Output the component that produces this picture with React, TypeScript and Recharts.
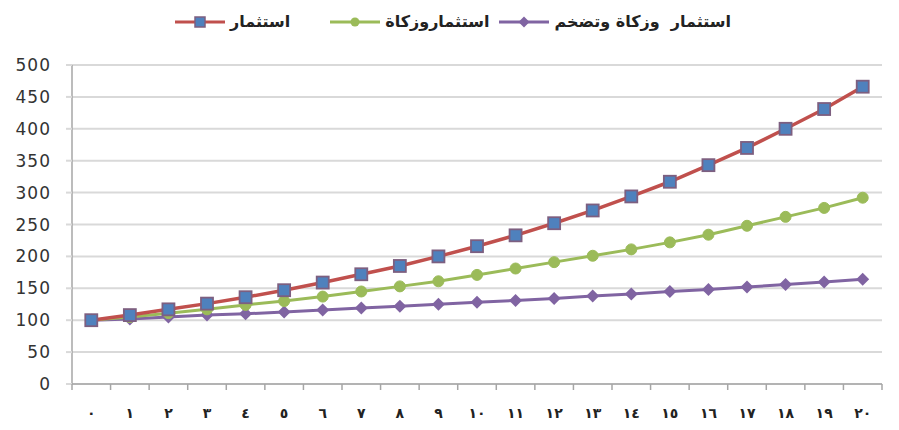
import React from 'react';
import { LineChart, Line, XAxis, YAxis, CartesianGrid } from 'recharts';

const years = [0, 1, 2, 3, 4, 5, 6, 7, 8, 9, 10, 11, 12, 13, 14, 15, 16, 17, 18, 19, 20];
const investment = [100, 108, 117, 126, 136, 147, 159, 172, 185, 200, 216, 233, 252, 272, 294, 317, 343, 370, 400, 431, 466];
const investZakat = [100, 105, 111, 117, 124, 130, 137, 145, 153, 161, 171, 181, 191, 201, 211, 222, 234, 248, 262, 276, 292];
const investZakatInflation = [100, 102, 105, 108, 110, 113, 116, 119, 122, 125, 128, 131, 134, 138, 141, 145, 148, 152, 156, 160, 164];
const yTicks = [0, 50, 100, 150, 200, 250, 300, 350, 400, 450, 500];
const arabicDigits = ['٠', '١', '٢', '٣', '٤', '٥', '٦', '٧', '٨', '٩'];

const seriesNames = ['استثمار', 'استثماروزكاة', 'استثمار  وزكاة وتضخم'];

const data = years.map((x, i) => ({
  x,
  a: investment[i],
  b: investZakat[i],
  c: investZakatInflation[i],
}));

// tick values: category centres for labels, half steps for the little tick marks
const xTicks = [...years.map((y) => y - 0.5), 20.5, ...years].sort((p, q) => p - q);

const toArabic = (n: number) =>
  String(n)
    .split('')
    .map((d) => arabicDigits[Number(d)])
    .join('');

const RED = '#c0504d';
const GREEN = '#9bbb59';
const PURPLE = '#8064a2';
const BLUE = '#4f81bd';

const SquareDot = (props: any) => {
  const { cx, cy } = props;
  if (cx == null || cy == null) return null;
  return <rect key={props.key ?? `s${cx}`} x={cx - 6} y={cy - 6} width={12} height={12} fill={BLUE} stroke="#7d5f80" strokeWidth={1.8} />;
};

const CircleDot = (props: any) => {
  const { cx, cy } = props;
  if (cx == null || cy == null) return null;
  return <circle key={props.key ?? `c${cx}`} cx={cx} cy={cy} r={5.5} fill={GREEN} stroke={GREEN} />;
};

const DiamondDot = (props: any) => {
  const { cx, cy } = props;
  if (cx == null || cy == null) return null;
  const s = 6.5;
  return (
    <polygon
      key={props.key ?? `d${cx}`}
      points={`${cx},${cy - s} ${cx + s},${cy} ${cx},${cy + s} ${cx - s},${cy}`}
      fill={PURPLE}
    />
  );
};

const XTick = (props: any) => {
  const { x, y, payload } = props;
  const v = payload.value;
  if (!Number.isInteger(v)) {
    return <line x1={x} y1={y} x2={x} y2={y + 6} stroke="#a6a6a6" strokeWidth={1.5} />;
  }
  return (
    <text x={x} y={y + 34} textAnchor="middle" fontSize={14} fontWeight="bold" fill="#222" fontFamily="DejaVu Sans">
      {toArabic(v)}
    </text>
  );
};

const LegendIcon = ({ color, kind }: { color: string; kind: string }) => (
  <svg width={50} height={14} style={{ display: 'block' }}>
    <line x1={0} y1={7} x2={50} y2={7} stroke={color} strokeWidth={3} />
    {kind === 'square' && <rect x={20} y={2} width={10} height={10} fill={BLUE} stroke="#7d5f80" strokeWidth={1.5} />}
    {kind === 'circle' && <circle cx={25} cy={7} r={4.5} fill={GREEN} />}
    {kind === 'diamond' && <polygon points="25,1.5 30.5,7 25,12.5 19.5,7" fill={PURPLE} />}
  </svg>
);

const legendItems = [
  { name: seriesNames[0], color: RED, kind: 'square', gap: 175 },
  { name: seriesNames[1], color: GREEN, kind: 'circle', gap: 40 },
  { name: seriesNames[2], color: PURPLE, kind: 'diamond', gap: 10 },
];

export default function App() {
  return (
    <div style={{ position: 'absolute', left: 0, top: 0, width: 899, height: 430, background: '#fff' }}>
      <div style={{ position: 'absolute', top: 12, left: 0, display: 'flex', alignItems: 'center', direction: 'ltr' }}>
        {legendItems.map((it) => (
          <div key={it.name} style={{ display: 'flex', alignItems: 'center', marginLeft: it.gap }}>
            <LegendIcon color={it.color} kind={it.kind} />
            <span
              style={{
                marginLeft: 5,
                fontFamily: 'DejaVu Sans',
                fontWeight: 'bold',
                fontSize: 16,
                color: '#222',
                whiteSpace: 'pre',
              }}
            >
              {it.name}
            </span>
          </div>
        ))}
      </div>
      <LineChart width={899} height={430} data={data} margin={{ top: 65, right: 17, bottom: 0, left: 0 }}>
        <CartesianGrid vertical={false} stroke="#d9d9d9" strokeWidth={2} xAxisId="x" />
        <XAxis
          xAxisId="x"
          dataKey="x"
          type="number"
          domain={[-0.5, 20.5]}
          ticks={xTicks}
          interval={0}
          tick={<XTick />}
          tickLine={false}
          tickSize={0}
          tickMargin={0}
          height={46}
          axisLine={{ stroke: '#a6a6a6', strokeWidth: 1.5 }}
        />
        <YAxis
          type="number"
          domain={[0, 500]}
          ticks={yTicks}
          interval={0}
          width={72}
          tickSize={6}
          tickMargin={15}
          tickLine={{ stroke: '#d9d9d9', strokeWidth: 2 }}
          axisLine={{ stroke: '#a6a6a6', strokeWidth: 1.5 }}
          tick={{ fontSize: 17, fill: '#333', fontFamily: 'DejaVu Sans', letterSpacing: 1 }}
        />
        <Line xAxisId="x" dataKey="c" stroke={PURPLE} strokeWidth={3} dot={<DiamondDot />} activeDot={false} isAnimationActive={false} />
        <Line xAxisId="x" dataKey="b" stroke={GREEN} strokeWidth={3} dot={<CircleDot />} activeDot={false} isAnimationActive={false} />
        <Line xAxisId="x" dataKey="a" stroke={RED} strokeWidth={3.5} dot={<SquareDot />} activeDot={false} isAnimationActive={false} />
      </LineChart>
    </div>
  );
}
